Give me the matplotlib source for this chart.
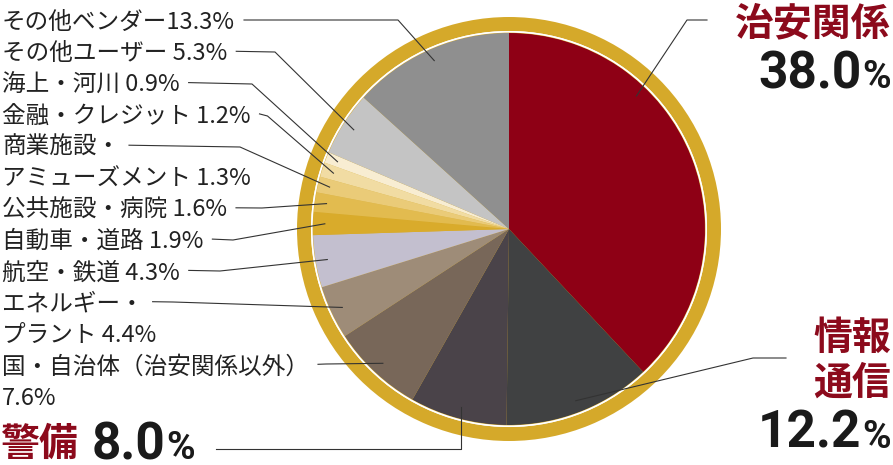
import numpy as np
import matplotlib
matplotlib.use('Agg')
import matplotlib.pyplot as plt
from matplotlib.patches import Wedge, Circle

plt.rcParams['font.family'] = ['Noto Sans CJK JP', 'DejaVu Sans']

# data
names = ['治安関係', '情報通信', '警備', '国・自治体（治安関係以外）', 'エネルギー・プラント',
         '航空・鉄道', '自動車・道路', '公共施設・病院', '商業施設・アミューズメント',
         '金融・クレジット', '海上・河川', 'その他ユーザー', 'その他ベンダー']
values = [38.0, 12.2, 8.0, 7.6, 4.4, 4.3, 1.9, 1.6, 1.3, 1.2, 0.9, 5.3, 13.3]
colors = ['#8e0015', '#404142', '#4a4349', '#786759', '#9e8c78', '#c3bfcf', '#d9ab2b',
          '#e2bb4f', '#eacb78', '#f1dca3', '#f8edd2', '#c4c4c4', '#8f8f8f']

# display labels for the small slices (line breaks, separator before the %)
disp = {3: '国・自治体（治安関係以外）\n', 4: 'エネルギー・\nプラント ', 5: '航空・鉄道 ',
        6: '自動車・道路 ', 7: '公共施設・病院 ', 8: '商業施設・\nアミューズメント ',
        9: '金融・クレジット ', 10: '海上・河川 ', 11: 'その他ユーザー ', 12: 'その他ベンダー'}
rows = {12: 0, 11: 1, 10: 2, 9: 3, 8: 4, 7: 6, 6: 7, 5: 8, 4: 9, 3: 11}
elbows = {12: (398, 20), 11: (275, 52), 10: (252, 84), 9: (257, 116), 8: (240, 147),
          7: (262, 208), 6: (233, 240), 5: (220, 271), 4: (173, 302), 3: (305, 364)}

W, H = 893, 465
cx, cy, R = 509, 229, 196
RED = '#8c0a1c'
GOLD = '#d5a92a'
LINE = '#333333'


def Y(y):
    return H - y


fig = plt.figure(figsize=(W / 100, H / 100), dpi=100)
ax = fig.add_axes([0, 0, 1, 1])

# gold ring + white line
ax.add_patch(Wedge((cx, Y(cy)), 212, 0, 360, width=14, color=GOLD, lw=0))
ax.add_patch(Circle((cx, Y(cy)), R + 1, color=GOLD, lw=0))
ax.pie(values, colors=colors, startangle=90, counterclock=False,
       center=(cx, Y(cy)), radius=R, wedgeprops=dict(linewidth=0))
ax.add_patch(Circle((cx, Y(cy)), R + 1.2, fill=False, ec='white', lw=1.2))

ax.set_xlim(0, W)
ax.set_ylim(0, H)
ax.set_aspect('equal')
ax.axis('off')

r = fig.canvas.get_renderer()

# anchor points on slices (angle clockwise from top)
cum = np.cumsum([0] + values)
frac = [0.5] * len(values)
frac[0] = 0.32


def anchor(i, rr=0.94):
    t = np.deg2rad((cum[i] + frac[i] * values[i]) * 3.6)
    return cx + rr * R * np.sin(t), cy - rr * R * np.cos(t)


# small labels on the left
fs = 17
for i, txt in disp.items():
    lines = (txt + f'{values[i]:.1f}%').split('\n')
    row = rows[i]
    first = None
    for k, ln in enumerate(lines):
        base = 29 + 31.3 * (row + k)
        t = ax.text(2, Y(base), ln, fontsize=fs, color='#222222', ha='left', va='baseline')
        if k == 0:
            first = t
    bb = first.get_window_extent(r)
    ly = 20 + 31.3 * row
    sx = bb.x1 + 9
    ex, ey = elbows[i]
    ex = max(ex, sx + 8)
    ax_, ay_ = anchor(i)
    ax.plot([sx, ex, ax_], [Y(ly), Y(ey), Y(ay_)], color=LINE, lw=0.8)


# big labels
def big_number(x, base, num, ha):
    kw = dict(fontsize=37, fontweight='bold', color='#1a1a1a', va='baseline',
              family=['Liberation Sans Narrow', 'Roboto'])
    kp = dict(kw, fontsize=28)
    if ha == 'right':
        p = ax.text(x, Y(base), '%', ha='right', **kp)
        bb = p.get_window_extent(r)
        ax.text(bb.x0 - 1, Y(base), num, ha='right', **kw)
    else:
        n = ax.text(x, Y(base), num, ha='left', **kw)
        bb = n.get_window_extent(r)
        ax.text(bb.x1 + 1, Y(base), '%', ha='left', **kp)


kr = dict(fontsize=28, fontweight='bold', color=RED, va='baseline')
ax.text(890, Y(35), names[0], ha='right', **kr)
big_number(891, 88, f'{values[0]:.1f}', 'right')
ax.text(891, Y(350), names[1][:2], ha='right', **kr)
ax.text(891, Y(395), names[1][2:], ha='right', **kr)
big_number(891, 448, f'{values[1]:.1f}', 'right')
ax.text(0, Y(456), names[2], ha='left', **kr)
big_number(92, 459, f'{values[2]:.1f}', 'left')

a0 = anchor(0)
ax.plot([a0[0], 687, 707], [Y(a0[1]), Y(20), Y(20)], color=LINE, lw=0.8)
a1 = anchor(1)
ax.plot([a1[0], 753, 786], [Y(a1[1]), Y(358), Y(358)], color=LINE, lw=0.8)
a2 = anchor(2)
ax.plot([a2[0], a2[0], 216], [Y(a2[1]), Y(449), Y(449)], color=LINE, lw=0.8)

fig.savefig('out.png', dpi=100, facecolor='white')
